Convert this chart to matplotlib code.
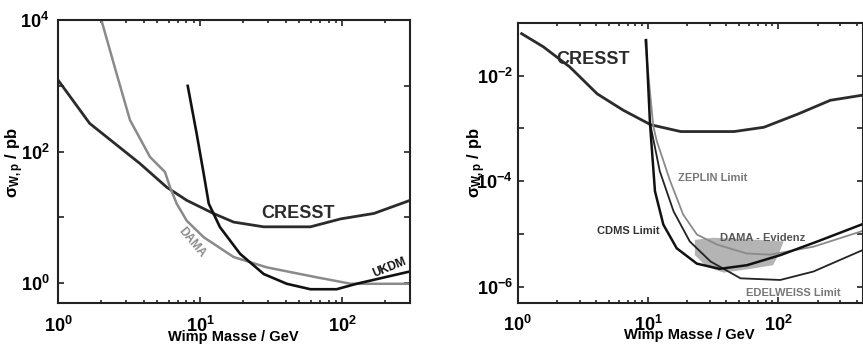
import numpy as np
import matplotlib
matplotlib.use("Agg")
import matplotlib.pyplot as plt
from matplotlib.ticker import LogLocator, FuncFormatter, NullLocator

plt.rcParams['font.family'] = ['Liberation Sans', 'DejaVu Sans']
plt.rcParams['font.weight'] = 'bold'
plt.rcParams['mathtext.fontset'] = 'custom'
plt.rcParams['mathtext.rm'] = 'Liberation Sans:bold'
plt.rcParams['mathtext.bf'] = 'Liberation Sans:bold'
plt.rcParams['mathtext.it'] = 'Liberation Sans:bold'

# ---- linkes Bild: Masse (GeV), Wirkungsquerschnitt (pb)
cresst_l_m = [1, 1.67, 3.77, 5.82, 8.05, 12.4, 17.2, 28, 59.7, 97.3, 167, 300]
cresst_l_s = [1230, 269, 66, 28.8, 18.2, 11.5, 8.5, 7.2, 7.2, 9.5, 11.5, 18.2]

dama_l_m = [2.02, 2.58, 3.21, 4.44, 5.66, 6.14, 6.84, 8.05, 10.6, 17.2, 29.5, 66, 115, 300]
dama_l_s = [10000, 1550, 302, 83, 49, 28.8, 16.2, 8.9, 5.0, 2.5, 1.74, 1.23, 0.98, 0.98]

ukdm_m = [8.18, 9.46, 10.6, 11.5, 13.8, 19.1, 28, 40.7, 59.7, 91.2, 126, 300]
ukdm_s = [1000, 186, 45.7, 16.2, 7.1, 2.8, 1.38, 0.98, 0.81, 0.81, 0.98, 1.51]

# ---- rechtes Bild
cresst_r_m = [1.07, 1.57, 2.51, 4.07, 6.46, 10.5, 17.8, 45.7, 77.6, 141, 251, 457]
cresst_r_s = [6.2e-2, 3.5e-2, 1.45e-2, 4.5e-3, 2.2e-3, 1.17e-3, 8.7e-4, 8.7e-4,
              1.05e-3, 1.86e-3, 3.4e-3, 4.3e-3]

zeplin_m = [9.48, 10.96, 11.67, 14.8, 18.6, 23.7, 33.9, 57.5, 87.1, 186, 447]
zeplin_s = [4.68e-2, 1.12e-3, 5.75e-4, 1e-4, 2.34e-5, 9.8e-6, 6.3e-6, 4.27e-6,
            4.07e-6, 5.75e-6, 1.15e-5]

cdms_m = [9.66, 10.35, 11.3, 13.1, 16.6, 23.7, 35.5, 57.5, 103.5, 200, 447]
cdms_s = [4.68e-2, 1.23e-3, 6.46e-5, 1.51e-5, 5.37e-6, 2.75e-6, 2.19e-6, 2.57e-6,
          3.98e-6, 7.24e-6, 1.55e-5]

edel_m = [10.5, 12.3, 15.7, 20.9, 30.2, 51.3, 103.5, 186, 447]
edel_s = [1.07e-3, 1.55e-4, 2.69e-5, 7.24e-6, 3.02e-6, 1.45e-6, 1.35e-6, 1.95e-6, 5.0e-6]

dama_r_m = [22.9, 31.6, 51.3, 110, 100, 91.2, 61, 38, 28.2, 22.9]
dama_r_s = [7.76e-6, 8.5e-6, 8.1e-6, 7.24e-6, 3.98e-6, 2.57e-6, 2.19e-6, 1.86e-6,
            2.4e-6, 3.98e-6]

dunkel = '#2b2b2b'
grau = '#8a8a8a'


def zehner(v, pos):
    e = int(round(np.log10(v)))
    if e % 2 != 0:
        return ''
    return r'$\mathbf{10^{%d}}$' % e


def achse_stil(ax, ypad):
    ax.set_xscale('log')
    ax.set_yscale('log')
    ax.xaxis.set_major_locator(LogLocator(base=10, numticks=10))
    ax.yaxis.set_major_locator(LogLocator(base=10, numticks=15))
    ax.yaxis.set_minor_locator(NullLocator())
    ax.xaxis.set_major_formatter(FuncFormatter(zehner_x))
    ax.yaxis.set_major_formatter(FuncFormatter(zehner))
    ax.tick_params(which='both', direction='in', top=True, right=True, width=1.2, color='#222222')
    ax.tick_params(which='major', length=4)
    ax.tick_params(which='minor', length=2)
    ax.tick_params(axis='x', pad=9, labelsize=13)
    ax.tick_params(axis='y', pad=ypad, labelsize=13)
    for s in ax.spines.values():
        s.set_linewidth(1.5)
        s.set_color('#222222')


def zehner_x(v, pos):
    e = int(round(np.log10(v)))
    return r'$\mathbf{10^{%d}}$' % e


fig = plt.figure(figsize=(8.63, 3.45), dpi=100)

# linkes Bild
ax1 = fig.add_axes([0.0672, 0.1217, 0.408, 0.820])
ax1.plot(cresst_l_m, cresst_l_s, color=dunkel, lw=2.0)
ax1.plot(dama_l_m, dama_l_s, color=grau, lw=1.8)
ax1.plot(ukdm_m, ukdm_s, color='#111111', lw=1.9)
ax1.set_xlim(1, 300)
ax1.set_ylim(0.5, 1e4)
achse_stil(ax1, 6)
ax1.text(49, 11.5, 'CRESST', fontsize=13, fontweight='bold', color=dunkel, ha='center', va='center')
ax1.text(8.8, 4.2, 'DAMA', fontsize=8.5, fontweight='bold', color=grau, ha='center', va='center', rotation=-50)
ax1.text(215, 1.75, 'UKDM', fontsize=8.5, fontweight='bold', color='#111111', ha='center', va='center', rotation=22)

# rechtes Bild
ax2 = fig.add_axes([0.600, 0.1226, 0.400, 0.8116])
ax2.fill(dama_r_m, dama_r_s, color='#b4b4b4', lw=0)
ax2.plot(cresst_r_m, cresst_r_s, color=dunkel, lw=2.0)
ax2.plot(zeplin_m, zeplin_s, color=grau, lw=1.3)
ax2.plot(edel_m, edel_s, color='#222222', lw=1.3)
ax2.plot(cdms_m, cdms_s, color='#111111', lw=1.8)
ax2.set_xlim(1, 447)
ax2.set_ylim(10 ** -6.3, 0.1)
achse_stil(ax2, 3.5)
ax2.text(3.78, 2.0e-2, 'CRESST', fontsize=13, fontweight='bold', color=dunkel, ha='center', va='center')
ax2.text(31.6, 1.15e-4, 'ZEPLIN Limit', fontsize=8, fontweight='bold', color='#777777', ha='center', va='center')
ax2.text(7.0, 1.12e-5, 'CDMS Limit', fontsize=8, fontweight='bold', color='#333333', ha='center', va='center')
ax2.text(76, 8.5e-6, 'DAMA - Evidenz', fontsize=8, fontweight='bold', color='#555555', ha='center', va='center')
ax2.text(130, 7.8e-7, 'EDELWEISS Limit', fontsize=8, fontweight='bold', color='#777777', ha='center', va='center')

# Achsenbeschriftungen
fig.text(15 / 863, 1 - 163 / 345, r'$\sigma_{W,p}$ / pb', rotation=90, fontsize=12,
         fontweight='bold', ha='center', va='center')
fig.text(477 / 863, 1 - 163 / 345, r'$\sigma_{W,p}$ / pb', rotation=90, fontsize=12,
         fontweight='bold', ha='center', va='center')
fig.text(233 / 863, 1 - 337 / 345, 'Wimp Masse / GeV', fontsize=10.5, fontweight='bold',
         ha='center', va='center')
fig.text(689 / 863, 1 - 335 / 345, 'Wimp Masse / GeV', fontsize=10.5, fontweight='bold',
         ha='center', va='center')

fig.savefig('out.png', dpi=100)
